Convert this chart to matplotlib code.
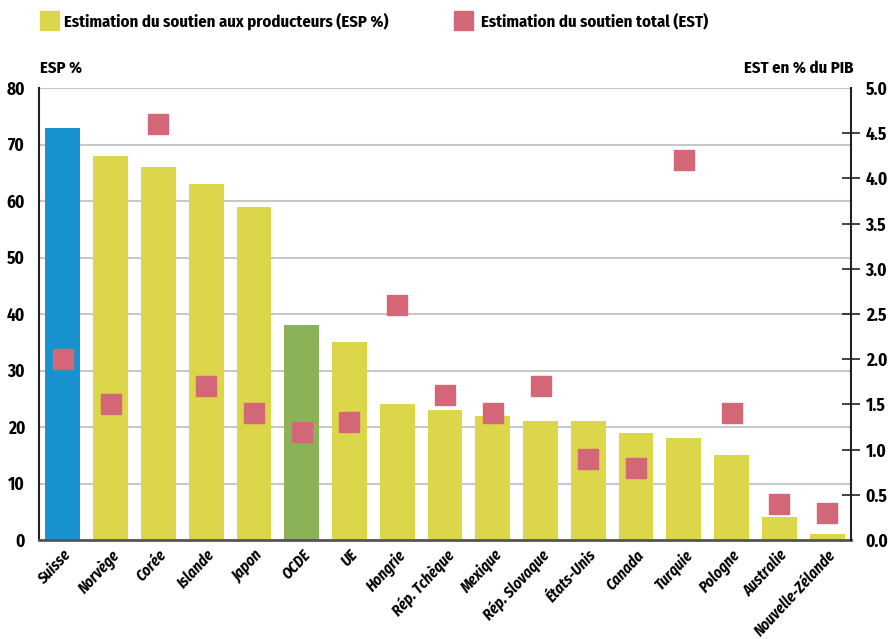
import matplotlib
matplotlib.use("Agg")
import matplotlib.pyplot as plt
from matplotlib.patches import Rectangle

plt.rcParams['font.family'] = ['Fira Sans Condensed', 'DejaVu Sans']

countries = ["Suisse", "Norvège", "Corée", "Islande", "Japon", "OCDE", "UE", "Hongrie",
             "Rép. Tchèque", "Mexique", "Rép. Slovaque", "États-Unis", "Canada", "Turquie",
             "Pologne", "Australie", "Nouvelle-Zélande"]
esp = [73, 68, 66, 63, 59, 38, 35, 24, 23, 22, 21, 21, 19, 18, 15, 4, 1]
est = [2.0, 1.5, 4.6, 1.7, 1.4, 1.2, 1.3, 2.6, 1.6, 1.4, 1.7, 0.9, 0.8, 4.2, 1.4, 0.4, 0.3]
left_ticks = [0, 10, 20, 30, 40, 50, 60, 70, 80]
right_ticks = [0.0, 0.5, 1.0, 1.5, 2.0, 2.5, 3.0, 3.5, 4.0, 4.5, 5.0]

YELLOW = "#DCD64A"
BLUE = "#1993D0"
GREEN = "#8BB256"
PINK = "#D46777"

colors = [BLUE if c == "Suisse" else GREEN if c == "OCDE" else YELLOW for c in countries]

fig = plt.figure(figsize=(8.93, 6.39), dpi=100)
ax = fig.add_axes([39/893, 1-540/639, (851-39)/893, (540-88)/639])
x = list(range(len(countries)))
ax.bar(x, esp, width=0.73, color=colors, zorder=2)
ax.set_xlim(-0.5, len(countries)-0.5)
ax.set_ylim(0, 80)
ax.set_yticks(left_ticks)
ax.set_yticklabels([str(t) for t in left_ticks], fontsize=12.5, fontweight='bold')
ax.tick_params(axis='y', length=0, pad=10)
ax.yaxis.grid(True, color="#C8C8C8", linewidth=1.5, zorder=0)
ax.set_axisbelow(True)
ax.set_xticks(x)
ax.set_xticklabels(countries, rotation=47, ha='right', rotation_mode='anchor',
                   fontsize=11, fontweight='bold', style='italic')
ax.tick_params(axis='x', length=0, pad=5)
for s in ['top', 'right']:
    ax.spines[s].set_visible(False)
ax.spines['left'].set_color('#222222')
ax.spines['left'].set_linewidth(1.5)
ax.spines['bottom'].set_color('#555555')
ax.spines['bottom'].set_linewidth(2)

ax2 = ax.twinx()
ax2.set_ylim(0, 5)
ax2.plot(x, est, linestyle='none', marker='s', markersize=14, color=PINK, zorder=3)
ax2.set_yticks(right_ticks)
ax2.set_yticklabels([f"{t:.1f}" for t in right_ticks], fontsize=12.5, fontweight='bold')
ax2.tick_params(axis='y', direction='inout', length=13, width=1.2, pad=4, color='#222222')
for s in ['top', 'left', 'bottom']:
    ax2.spines[s].set_visible(False)
ax2.spines['right'].set_color('#222222')
ax2.spines['right'].set_linewidth(1.5)
for tl in [ax2.yaxis.get_major_ticks()[0], ax2.yaxis.get_major_ticks()[-1]]:
    tl.tick2line.set_visible(False)

fig.text(40/893, 1-68/639, "ESP %", fontsize=12, fontweight='bold', va='center', ha='left')
fig.text(853/893, 1-68/639, "EST en % du PIB", fontsize=12, fontweight='bold', va='center', ha='right')

fig.patches.append(Rectangle((40/893, 1-30/639), 19/893, 19/639, transform=fig.transFigure,
                             color=YELLOW, figure=fig))
fig.text(64/893, 1-21/639, "Estimation du soutien aux producteurs (ESP %)", fontsize=12,
         fontweight='bold', va='center', ha='left')
fig.patches.append(Rectangle((454/893, 1-30/639), 19/893, 19/639, transform=fig.transFigure,
                             color=PINK, figure=fig))
fig.text(481/893, 1-21/639, "Estimation du soutien total (EST)", fontsize=12,
         fontweight='bold', va='center', ha='left')

fig.savefig("out.png", dpi=100)
